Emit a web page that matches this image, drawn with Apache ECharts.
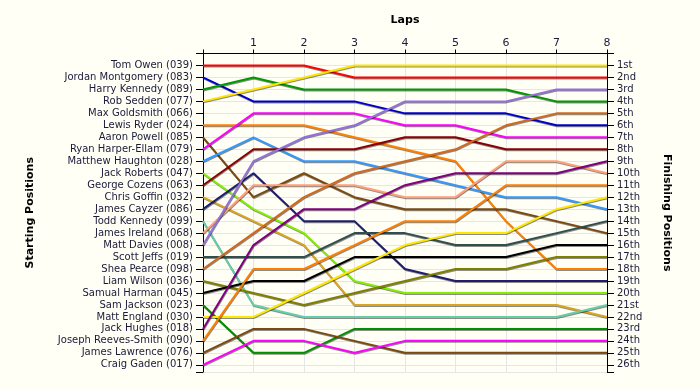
<!DOCTYPE html>
<html><head><meta charset="utf-8">
<script src="https://cdn.jsdelivr.net/npm/echarts@6/dist/echarts.min.js"></script>
<style>html,body{margin:0;padding:0;background:#FFFFF5}#c{width:700px;height:390px}</style>
</head><body><div id="c"></div>
<script>
const laps = [0,1,2,3,4,5,6,7,8];
const lapTickLabels = ["","1","2","3","4","5","6","7","8"];
const startingNames = [
 "Tom Owen (039)","Jordan Montgomery (083)","Harry Kennedy (089)","Rob Sedden (077)",
 "Max Goldsmith (066)","Lewis Ryder (024)","Aaron Powell (085)","Ryan Harper-Ellam (079)",
 "Matthew Haughton (028)","Jack Roberts (047)","George Cozens (063)","Chris Goffin (032)",
 "James Cayzer (086)","Todd Kennedy (099)","James Ireland (068)","Matt Davies (008)",
 "Scott Jeffs (019)","Shea Pearce (098)","Liam Wilson (036)","Samual Harman (045)",
 "Sam Jackson (023)","Matt England (030)","Jack Hughes (018)","Joseph Reeves-Smith (090)",
 "James Lawrence (076)","Craig Gaden (017)"
];
const finishLabels = ["1st","2nd","3rd","4th","5th","6th","7th","8th","9th","10th","11th","12th","13th",
 "14th","15th","16th","17th","18th","19th","20th","21st","22nd","23rd","24th","25th","26th"];
// position of each driver (in starting order) after each lap 0..8
const positionsByDriver = [
 [1,1,1,2,2,2,2,2,2],
 [2,4,4,4,5,5,5,6,6],
 [3,2,3,3,3,3,3,4,4],
 [4,3,2,1,1,1,1,1,1],
 null,
 [6,6,6,7,8,9,14,18,18],
 [7,12,10,12,13,13,13,14,15],
 [8,5,5,5,6,6,7,7,7],
 [9,7,9,9,10,11,12,12,13],
 [10,13,15,19,20,20,20,20,20],
 [11,8,8,8,7,7,8,8,8],
 [12,14,16,21,21,21,21,21,22],
 [13,10,14,14,18,19,19,19,19],
 [14,21,22,22,22,22,22,22,21],
 [15,11,11,11,12,12,9,9,10],
 [16,9,7,6,4,4,4,3,3],
 [17,17,17,15,15,16,16,15,14],
 [18,15,12,10,9,8,6,5,5],
 [19,20,21,20,19,18,18,17,17],
 [20,19,19,17,17,17,17,16,16],
 [21,25,25,23,23,23,23,23,23],
 [22,22,20,18,16,15,15,13,12],
 [23,16,13,13,11,10,10,10,9],
 [24,18,18,16,14,14,11,11,11],
 [25,23,23,24,25,25,25,25,25],
 [26,24,24,25,24,24,24,24,24]
];
const lineColors = [
 "#FF0000","#0000CD","#009A00","#FFE600","#FF00FF","#FF8000","#7A4A10","#FF00FF",
 "#3399FF","#80F000","#8B0000","#DAA520","#1E1E70","#66CDAA","#FFA07A","#9370DB",
 "#2F4F4F","#D2691E","#808000","#000000","#009000","#FFE800","#800080","#FF8000",
 "#7A4A10","#FF00FF"
];

const FONT = "DejaVu Sans";
const TXT = "#1a1a3a";
const series = [];
startingNames.forEach((n, i) => {
  const p = positionsByDriver[i];
  if (!p) return;
  series.push({
    name: n, type: 'line', symbol: 'none', silent: true,
    data: laps.map((l, k) => [l, p[k]]),
    lineStyle: { color: lineColors[i], width: 2, shadowColor: 'rgba(0,0,0,0.45)', shadowBlur: 0, shadowOffsetY: 1, shadowOffsetX: 0.5 },
    itemStyle: { color: lineColors[i] }
  });
});

const yCommon = {
  type: 'value', inverse: true, min: 0, max: 26.6, interval: 1,
  axisLine: { show: true, lineStyle: { color: '#000', width: 1 } },
  axisTick: { show: true, length: 7, lineStyle: { color: '#000' } },
  splitLine: { show: true, lineStyle: { color: '#E6E6E6', width: 1 } },
  nameLocation: 'middle',
  nameTextStyle: { fontFamily: FONT, fontSize: 11, fontWeight: 'bold', color: '#000' }
};

const chart = echarts.init(document.getElementById('c'), null, { renderer: 'canvas' });
chart.setOption({
  backgroundColor: '#FFFFF5',
  animation: false,
  grid: { left: 203, right: 93, top: 53.5, bottom: 18 },
  xAxis: {
    type: 'value', position: 'top', min: 0, max: 8, interval: 1,
    name: 'Laps', nameLocation: 'middle', nameGap: 28,
    nameTextStyle: { fontFamily: FONT, fontSize: 11, fontWeight: 'bold', color: '#000' },
    axisLine: { show: true, onZero: false, lineStyle: { color: '#000' } },
    axisTick: { show: true, length: 4, lineStyle: { color: '#000' } },
    axisLabel: { margin: 5, fontFamily: FONT, fontSize: 11, color: TXT, formatter: v => lapTickLabels[v] || '' },
    splitLine: { show: true, lineStyle: { color: '#E6E6E6' } }
  },
  yAxis: [
    Object.assign({}, yCommon, {
      position: 'left', name: 'Starting Positions', nameRotate: 90, nameGap: 167,
      axisLabel: { margin: 10, fontFamily: FONT, fontSize: 10, color: TXT, formatter: v => (v >= 1 && Number.isInteger(v)) ? startingNames[v-1] : '' }
    }),
    Object.assign({}, yCommon, {
      position: 'right', name: 'Finishing Positions', nameRotate: -90, nameGap: 54,
      splitLine: { show: false },
      axisLabel: { margin: 10, fontFamily: FONT, fontSize: 10, color: TXT, formatter: v => (v >= 1 && Number.isInteger(v)) ? finishLabels[v-1] : '' }
    })
  ],
  series: series
});
</script></body></html>
